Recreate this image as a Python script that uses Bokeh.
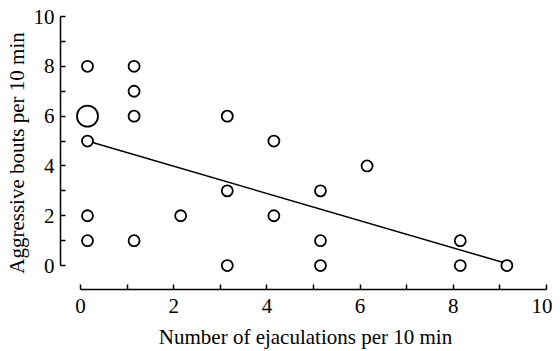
from bokeh.plotting import figure
from bokeh.models import Range1d, FixedTicker, ColumnDataSource
from bokeh.embed import file_html
from bokeh.resources import INLINE

# data
ejaculations = [0.15, 0.15, 0.15, 0.15, 0.15,
                1.15, 1.15, 1.15, 1.15,
                2.15,
                3.15, 3.15, 3.15,
                4.15, 4.15,
                5.15, 5.15, 5.15,
                6.15,
                8.15, 8.15,
                9.15]
aggressive = [8, 6, 5, 2, 1,
              8, 7, 6, 1,
              2,
              6, 3, 0,
              5, 2,
              3, 1, 0,
              4,
              1, 0,
              0]
n_obs = [1, 2, 1, 1, 1,
         1, 1, 1, 1,
         1,
         1, 1, 1,
         1, 1,
         1, 1, 1,
         1,
         1, 1,
         1]
fit_x = [0.15, 9.15]
fit_y = [5.0, 0.08]

sizes = [11 if n == 1 else 21 for n in n_obs]
src = ColumnDataSource(dict(x=ejaculations, y=aggressive, s=sizes))

FONT = "Liberation Serif"

p = figure(width=552, height=351, output_backend="svg", toolbar_location=None,
           x_range=Range1d(-0.429, 10.086), y_range=Range1d(-0.96, 10),
           min_border_left=60, min_border_right=2, min_border_top=16, min_border_bottom=61)
p.outline_line_color = None
p.grid.visible = False

p.line(fit_x, fit_y, line_color="black", line_width=1.5)
p.scatter("x", "y", size="s", source=src, fill_color="white", line_color="black", line_width=1.8)

for ax, lab in ((p.xaxis[0], "Number of ejaculations per 10 min"), (p.yaxis[0], "Aggressive bouts per 10 min")):
    ax.bounds = (0, 10)
    ax.ticker = FixedTicker(ticks=[0, 2, 4, 6, 8, 10], minor_ticks=[1, 3, 5, 7, 9])
    ax.major_tick_in = 5
    ax.major_tick_out = 0
    ax.minor_tick_in = 5
    ax.minor_tick_out = 0
    ax.axis_line_width = 1.5
    ax.major_tick_line_width = 1.5
    ax.minor_tick_line_width = 1.5
    ax.major_label_text_font = FONT
    ax.major_label_text_font_size = "21px"
    ax.major_label_text_color = "black"
    ax.axis_label = lab
    ax.axis_label_text_font = FONT
    ax.axis_label_text_font_size = "21px"
    ax.axis_label_text_font_style = "normal"
    ax.axis_label_text_color = "black"

p.xaxis.major_label_standoff = 9
p.xaxis.axis_label_standoff = 9
p.yaxis.major_label_standoff = 6
p.yaxis.axis_label_standoff = 2

open("out.html", "w").write(file_html(p, INLINE))
